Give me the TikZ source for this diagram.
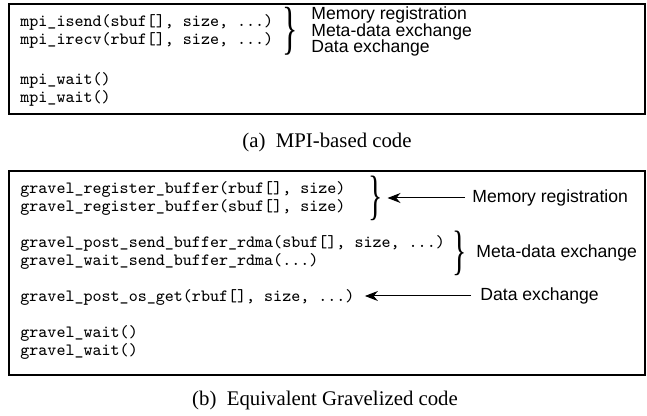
\documentclass[tikz,border=0pt]{standalone}
\usepackage{fontspec}
\setmainfont{Liberation Serif}
\setsansfont{Liberation Sans}
\usetikzlibrary{arrows.meta}

\begin{document}
\begin{tikzpicture}[x=0.5pt,y=-0.5pt,
    code/.style={anchor=west,inner sep=0pt,font=\fontsize{8.6}{9}\selectfont\ttfamily},
    lbl/.style={anchor=west,inner sep=0pt,text height=6.3pt,text depth=1.6pt,
        font=\fontsize{8.8}{9}\selectfont\sffamily},
    captext/.style={font=\fontsize{10.4}{12}\selectfont\rmfamily},
    brc/.style={inner sep=0pt,font=\fontsize{#1}{#1}\selectfont\rmfamily},
    frame/.style={draw,line width=0.6pt},
    arr/.style={-{Stealth[length=6.5pt,width=5pt]},line width=0.5pt}]

    \useasboundingbox (0,0) rectangle (647,416);

    % the boxes
    \draw[frame] (9,4) rectangle (645,114);
    \draw[frame] (9,171) rectangle (645,375);

    % the MPI code
    \node[code] (isend) at (20,22) {mpi\_isend(sbuf[], size, ...)};
    \node[code] (irecv) at (20,40) {mpi\_irecv(rbuf[], size, ...)};
    \node[code] (waita) at (20,80) {mpi\_wait()};
    \node[code] (waitb) at (20,98) {mpi\_wait()};

    \node[brc=29] (brmpi) at (290,31) {\scalebox{0.55}[1]{\}}};
    \node[lbl] (memmpi) at (311,15) {Memory registration};
    \node[lbl] (metampi) at (311,31.5) {Meta-data exchange};
    \node[lbl] (datampi) at (311,48) {Data exchange};

    % the gravel code
    \node[code] (regr) at (20,189) {gravel\_register\_buffer(rbuf[], size)};
    \node[code] (regs) at (20,207) {gravel\_register\_buffer(sbuf[], size)};
    \node[code] (psend) at (20,243) {gravel\_post\_send\_buffer\_rdma(sbuf[], size, ...)};
    \node[code] (wsend) at (20,261) {gravel\_wait\_send\_buffer\_rdma(...)};
    \node[code] (osget) at (20,297) {gravel\_post\_os\_get(rbuf[], size, ...)};
    \node[code] (gwaita) at (20,333) {gravel\_wait()};
    \node[code] (gwaitb) at (20,351) {gravel\_wait()};

    \node[brc=27] (brreg) at (376,198) {\scalebox{0.55}[1]{\}}};
    \node[brc=27] (brmeta) at (460,253) {\scalebox{0.55}[1]{\}}};
    \node[lbl] (memgr) at (472,198) {Memory registration};
    \node[lbl] (metagr) at (476,253) {Meta-data exchange};
    \node[lbl] (datagr) at (480,296) {Data exchange};

    \draw[arr,shorten <=3.5pt,shorten >=2pt] (memgr.west) --
    (memgr.west -| brreg.east);
    \draw[arr,shorten <=4.5pt,shorten >=5pt] (datagr.west) --
    (datagr.west -| osget.east);

    % the captions
    \node[captext] (capmpi) at (327,143) {(a)\enspace MPI-based code};
    \node[captext] (capgr) at (325,400) {(b)\enspace Equivalent Gravelized code};
\end{tikzpicture}
\end{document}
